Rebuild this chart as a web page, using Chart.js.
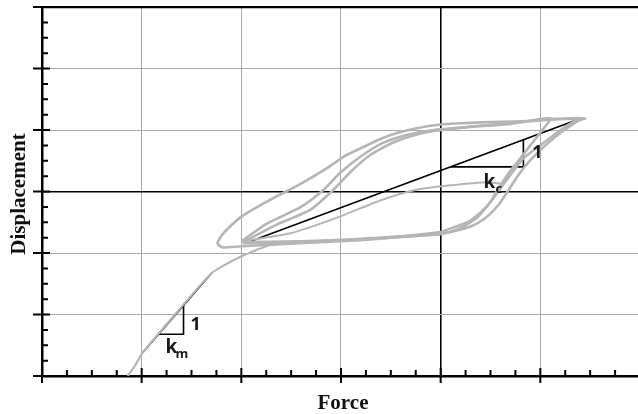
<!DOCTYPE html>
<html>
<head>
<meta charset="utf-8">
<script src="https://cdn.jsdelivr.net/npm/chart.js@4.4.1/dist/chart.umd.min.js"></script>
<style>
html, body { margin: 0; padding: 0; background: #fff; }
#wrap { width: 638px; height: 414px; }
</style>
</head>
<body>
<div id="wrap"><canvas id="grafico" width="638" height="414"></canvas></div>
<script>
// Ejes (el original no tiene etiquetas numéricas)
const xMajor = [-4, -3, -2, -1, 0, 1, 2];
const yMajor = [-3, -2, -1, 0, 1, 2, 3];
const xMinor = [-3.75, -3.5, -3.25, -2.75, -2.5, -2.25, -1.75, -1.5, -1.25, -0.75, -0.5, -0.25, 0.25, 0.5, 0.75, 1.25, 1.5, 1.75];
const yMinor = [-2.75, -2.5, -2.25, -1.75, -1.5, -1.25, -0.75, -0.5, -0.25, 0.25, 0.5, 0.75, 1.25, 1.5, 1.75, 2.25, 2.5, 2.75];

// Curva virgen
const virgen = [[-3.14, -3.0], [-3.07, -2.84], [-2.99, -2.62], [-2.65, -1.97], [-2.30, -1.33], [-2.14, -1.17], [-1.98, -1.04], [-1.71, -0.87], [-1.41, -0.81]];

// Ciclo exterior
const cicloExterior = [[-2.24, -0.86], [-2.19, -0.91], [-2.00, -0.89], [-1.41, -0.84], [-0.81, -0.79], [-0.41, -0.74], [0.00, -0.69], [0.15, -0.63], [0.25, -0.55], [0.37, -0.42], [0.50, -0.17], [0.60, 0.05], [0.70, 0.27], [0.83, 0.54], [1.00, 0.75], [1.17, 0.96], [1.33, 1.13], [1.45, 1.19],
  [1.30, 1.18], [1.10, 1.18], [0.80, 1.14], [0.50, 1.13], [0.20, 1.11], [0.00, 1.09], [-0.24, 1.03], [-0.44, 0.95], [-0.61, 0.85], [-0.78, 0.72], [-0.98, 0.56], [-1.14, 0.38], [-1.41, 0.12], [-1.74, -0.16], [-2.01, -0.42], [-2.18, -0.68], [-2.24, -0.84], [-2.19, -0.91]];

// Ciclos interiores
const cicloInteriorA = [[-2.00, -0.82], [-1.98, -0.79], [-1.74, -0.52], [-1.41, -0.26], [-1.18, 0.02], [-1.01, 0.30], [-0.81, 0.56], [-0.58, 0.79], [-0.34, 0.92], [-0.07, 1.00], [0.30, 1.05], [0.70, 1.10], [1.10, 1.19],
  [1.00, 0.96], [0.90, 0.75], [0.77, 0.48], [0.67, 0.27], [0.58, 0.05], [0.50, -0.17], [0.40, -0.34], [0.27, -0.50], [0.10, -0.60], [0.00, -0.66], [-0.41, -0.73], [-0.91, -0.78], [-1.41, -0.81], [-2.00, -0.82]];
const cicloInteriorB = [[-1.98, -0.82], [-1.66, -0.55], [-1.31, -0.30], [-1.08, 0.02], [-0.91, 0.31], [-0.71, 0.59], [-0.47, 0.80], [-0.21, 0.94], [0.10, 1.02], [0.60, 1.10], [1.20, 1.18], [1.41, 1.19],
  [1.35, 1.12], [1.20, 0.95], [1.05, 0.75], [0.90, 0.51], [0.78, 0.27], [0.68, 0.02], [0.58, -0.22], [0.45, -0.43], [0.30, -0.57], [0.15, -0.64], [0.00, -0.69], [-0.61, -0.76], [-1.41, -0.82], [-1.98, -0.84]];

// Recarga parcial
const recarga = [[-1.91, -0.79], [-1.51, -0.68], [-1.08, -0.45], [-0.58, -0.13], [-0.24, 0.03], [0.10, 0.10], [0.47, 0.15], [0.63, 0.12]];

// Rigideces kc y km
const lineaKc = [[-1.94, -0.83], [1.41, 1.19]];
const trianguloKc = [[0.10, 0.40], [0.83, 0.40], [0.83, 0.84]];
const lineaKm = [[-2.99, -2.62], [-2.30, -1.33]];
const trianguloKm = [[-2.83, -2.32], [-2.58, -2.32], [-2.58, -1.85]];

const GRIS = '#b5b5b5';
const NEGRO = '#000';

const notas = [
  { texto: '1', x: 0.92, y: 0.54, size: 18 },
  { texto: 'k', x: 0.43, y: 0.05, size: 19 },
  { texto: 'c', x: 0.55, y: -0.03, size: 13 },
  { texto: '1', x: -2.51, y: -2.25, size: 18 },
  { texto: 'k', x: -2.76, y: -2.63, size: 19 },
  { texto: 'm', x: -2.66, y: -2.71, size: 13 }
];

function aPuntos(arr) {
  return arr.map(p => ({ x: p[0], y: p[1] }));
}

function serie(arr, color, ancho, tension) {
  return {
    data: aPuntos(arr),
    showLine: true,
    borderColor: color,
    borderWidth: ancho,
    pointRadius: 0,
    tension: tension,
    fill: false
  };
}

// Marcas de los ejes, títulos y notas
const extras = {
  id: 'extras',
  afterDraw(chart) {
    const { ctx, chartArea, scales } = chart;
    const sx = scales.x, sy = scales.y;
    ctx.save();
    ctx.strokeStyle = NEGRO;
    ctx.lineWidth = 2;
    ctx.beginPath();
    xMinor.forEach(v => {
      const px = sx.getPixelForValue(v);
      ctx.moveTo(px, chartArea.bottom - 6);
      ctx.lineTo(px, chartArea.bottom);
    });
    xMajor.forEach(v => {
      const px = sx.getPixelForValue(v);
      if (px > chartArea.right) return;
      ctx.moveTo(px, chartArea.bottom - 8);
      ctx.lineTo(px, chartArea.bottom + 7);
    });
    yMinor.forEach(v => {
      const py = sy.getPixelForValue(v);
      ctx.moveTo(chartArea.left, py);
      ctx.lineTo(chartArea.left + 6, py);
    });
    yMajor.forEach(v => {
      const py = sy.getPixelForValue(v);
      ctx.moveTo(chartArea.left - 9, py);
      ctx.lineTo(chartArea.left + 8, py);
    });
    ctx.stroke();

    // títulos de ejes
    ctx.fillStyle = '#111';
    ctx.font = 'bold 21px "Liberation Serif", serif';
    ctx.textAlign = 'center';
    ctx.textBaseline = 'alphabetic';
    ctx.fillText('Force', 343, 409);
    ctx.translate(25, 194);
    ctx.rotate(-Math.PI / 2);
    ctx.fillText('Displacement', 0, 0);
    ctx.restore();

    // notas
    ctx.save();
    ctx.fillStyle = '#1a1a1a';
    ctx.textAlign = 'left';
    ctx.textBaseline = 'alphabetic';
    notas.forEach(n => {
      ctx.font = `bold ${n.size}px "Open Sans", sans-serif`;
      ctx.fillText(n.texto, sx.getPixelForValue(n.x), sy.getPixelForValue(n.y));
    });
    ctx.restore();
  }
};

function colorGrid(ctx) {
  const v = ctx.tick.value;
  return (v === 0 || v === 3) ? NEGRO : '#a8a8a8';
}
function anchoGrid(ctx) {
  const v = ctx.tick.value;
  if (v === 3) return 2.2;
  return v === 0 ? 1.6 : 1;
}

new Chart(document.getElementById('grafico'), {
  type: 'scatter',
  data: {
    datasets: [
      serie(virgen, GRIS, 2.2, 0.2),
      serie(cicloExterior, GRIS, 2.6, 0.2),
      serie(cicloInteriorA, GRIS, 2.6, 0.2),
      serie(cicloInteriorB, GRIS, 2.6, 0.2),
      serie(recarga, GRIS, 2, 0.2),
      serie(lineaKc, NEGRO, 1.6, 0),
      serie(trianguloKc, NEGRO, 1.6, 0),
      serie(lineaKm, NEGRO, 1.6, 0),
      serie(trianguloKm, NEGRO, 1.6, 0)
    ]
  },
  options: {
    responsive: false,
    animation: false,
    events: [],
    layout: { padding: { top: 7, right: 0, left: 0, bottom: 0 } },
    plugins: { legend: { display: false }, tooltip: { enabled: false } },
    scales: {
      x: {
        type: 'linear',
        min: -4,
        max: 1.98,
        afterBuildTicks: s => { s.ticks = xMajor.filter(v => v <= s.max).map(v => ({ value: v })); },
        afterFit: s => { s.height = 38; },
        ticks: { display: false },
        grid: { color: colorGrid, lineWidth: anchoGrid, drawTicks: false },
        border: { color: NEGRO, width: 2.5 }
      },
      y: {
        type: 'linear',
        min: -3,
        max: 3,
        afterBuildTicks: s => { s.ticks = yMajor.map(v => ({ value: v })); },
        afterFit: s => { s.width = 42; },
        ticks: { display: false },
        grid: { color: colorGrid, lineWidth: anchoGrid, drawTicks: false },
        border: { color: NEGRO, width: 2.5 }
      }
    }
  },
  plugins: [extras]
});
</script>
</body>
</html>
